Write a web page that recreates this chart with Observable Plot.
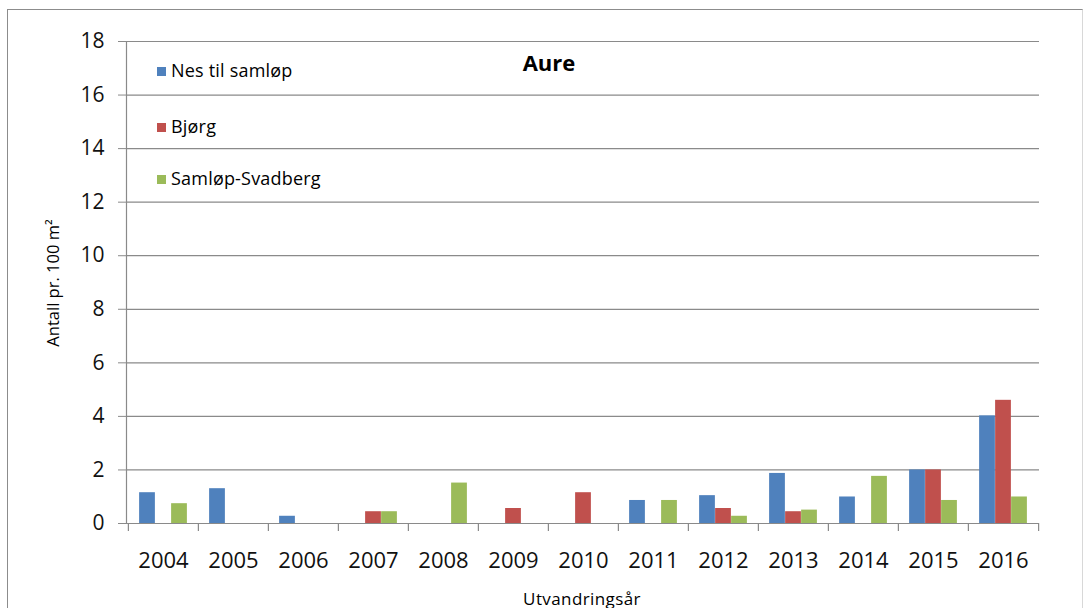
<!DOCTYPE html>
<html>
<head>
<meta charset="utf-8">
<script src="https://cdn.jsdelivr.net/npm/d3@7"></script>
<script src="https://cdn.jsdelivr.net/npm/@observablehq/plot@0.6"></script>
<style>
  html, body { margin: 0; padding: 0; background: #fff; }
  #wrap { position: relative; width: 1087px; height: 608px; overflow: hidden; font-family: "Open Sans", sans-serif; }
  #border { position: absolute; left: 7px; top: 9px; width: 1076px; height: 620px; border: 1.5px solid #8c8c8c; border-right-color: #d8d8d8; box-sizing: border-box; }
  .ov { position: absolute; white-space: nowrap; color: #000; line-height: 1; }
  .sw { display: inline-block; width: 9px; height: 9px; margin-right: 5px; vertical-align: 1px; }
</style>
</head>
<body>
<div id="wrap">
  <div id="border"></div>
  <div id="chart"></div>
</div>
<script>
const years = [2004, 2005, 2006, 2007, 2008, 2009, 2010, 2011, 2012, 2013, 2014, 2015, 2016];
const seriesNames = ["Nes til samløp", "Bjørg", "Samløp-Svadberg"];
const colors = ["#4F81BD", "#C0504D", "#9BBB59"];
const nesTilSamlop   = [1.15, 1.3, 0.27, 0, 0, 0, 0, 0.86, 1.04, 1.87, 0.99, 2.0, 4.02];
const bjorg          = [0, 0, 0, 0.44, 0, 0.56, 1.15, 0, 0.56, 0.44, 0, 2.0, 4.6];
const samlopSvadberg = [0.74, 0, 0, 0.44, 1.51, 0, 0, 0.86, 0.27, 0.5, 1.76, 0.86, 0.99];
const yTicks = [0, 2, 4, 6, 8, 10, 12, 14, 16, 18];
const title = "Aure";
const yTitle = "Antall pr. 100 m²";
const xTitle = "Utvandringsår";

const W = 1087, H = 608, ML = 126, MR = 48, MT = 41, MB = 85;
const bw = (W - ML - MR) / years.length;
const barW = 16;
const inset = (bw - barW) / 2;
const allSeries = [nesTilSamlop, bjorg, samlopSvadberg];

const marks = [
  Plot.ruleY(yTicks.filter(d => d > 0), {y: d => d, stroke: "#8a8a8a", strokeWidth: 1.2}),
  Plot.axisY({ticks: yTicks, tickSize: 8, tickPadding: 14, stroke: "#8a8a8a", fontSize: 21, label: null, tickFormat: d => d}),
  Plot.axisX({tickSize: 0, tickPadding: 29, fontSize: 22, label: null, tickFormat: d => String(d)}),
];
allSeries.forEach((vals, i) => {
  marks.push(Plot.barY(years.map((yr, j) => ({year: yr, value: vals[j]})), {
    x: "year", y: "value", fill: colors[i], insetLeft: inset, insetRight: inset, dx: (i - 1) * barW
  }));
});
marks.push(
  Plot.ruleY([0], {stroke: "#8a8a8a", strokeWidth: 1.2}),
  Plot.frame({anchor: "left", stroke: "#8a8a8a", strokeWidth: 1.2}),
  Plot.ruleX(years, {x: d => d, dx: -bw / 2, y1: 0, y2: -0.3, stroke: "#8a8a8a", strokeWidth: 1.2}),
  Plot.ruleX(years.slice(-1), {x: d => d, dx: bw / 2, y1: 0, y2: -0.3, stroke: "#8a8a8a", strokeWidth: 1.2})
);

const chart = Plot.plot({
  width: W, height: H,
  marginLeft: ML, marginRight: MR, marginTop: MT, marginBottom: MB,
  style: {fontFamily: "'Open Sans', sans-serif", color: "#111", background: "transparent", overflow: "visible"},
  x: {type: "band", domain: years, padding: 0},
  y: {domain: [0, 18]},
  marks
});
chart.style.position = "absolute";
chart.style.left = "0px";
chart.style.top = "0px";
document.getElementById("chart").append(chart);

const wrap = document.getElementById("wrap");
function overlay(html, css) {
  const d = document.createElement("div");
  d.className = "ov";
  d.innerHTML = html;
  Object.assign(d.style, css);
  wrap.append(d);
  return d;
}
overlay(title, {left: "549px", top: "62px", transform: "translate(-50%,-50%)", fontWeight: "bold", fontSize: "22px"});
const legendCenters = [70, 126, 178];
seriesNames.forEach((n, i) => {
  overlay(`<span class="sw" style="background:${colors[i]}"></span>${n}`, {left: "157px", top: legendCenters[i] + "px", transform: "translateY(-50%)", fontSize: "18px", letterSpacing: "0.2px"});
});
overlay(yTitle, {left: "53px", top: "283px", transform: "translate(-50%,-50%) rotate(-90deg)", fontSize: "16.5px"});
overlay(xTitle, {left: "582px", top: "598px", transform: "translate(-50%,-50%)", fontSize: "17px", letterSpacing: "0.4px"});
</script>
</body>
</html>
